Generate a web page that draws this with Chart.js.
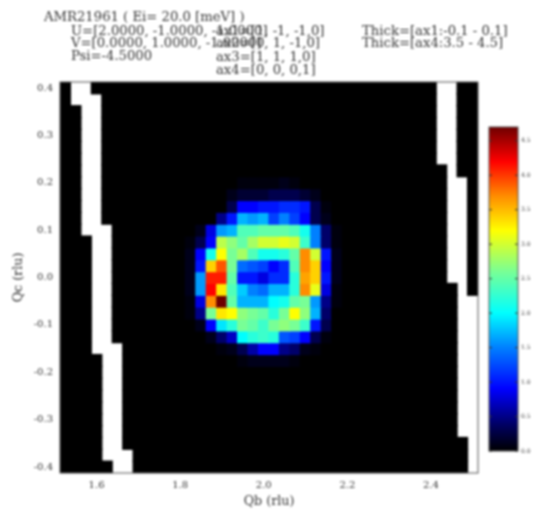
<!DOCTYPE html>
<html>
<head>
<meta charset="utf-8">
<title>AMR21961</title>
<script src="https://cdn.jsdelivr.net/npm/chart.js@4"></script>
<style>
  body { margin: 0; background: #fff; }
  canvas { position: absolute; filter: blur(0.8px); }
  #slice { left: 0; top: 0; }
  #colorbar { left: 480px; top: 117px; }
</style>
</head>
<body>
<canvas id="slice" width="533" height="511"></canvas>
<canvas id="colorbar" width="53" height="353"></canvas>
<script>
const N = null; // masked bin, no data

const qbBins = [1.525, 1.55, 1.575, 1.6, 1.625, 1.65, 1.675, 1.7, 1.725, 1.75,
  1.775, 1.8, 1.825, 1.85, 1.875, 1.9, 1.925, 1.95, 1.975, 2.0,
  2.025, 2.05, 2.075, 2.1, 2.125, 2.15, 2.175, 2.2, 2.225, 2.25,
  2.275, 2.3, 2.325, 2.35, 2.375, 2.4, 2.425, 2.45, 2.475, 2.5];

const qcBins = [0.4, 0.375, 0.35, 0.325, 0.3, 0.275, 0.25, 0.225, 0.2, 0.175, 0.15,
  0.125, 0.1, 0.075, 0.05, 0.025, 0.0, -0.025, -0.05, -0.075, -0.1, -0.125,
  -0.15, -0.175, -0.2, -0.225, -0.25, -0.275, -0.3, -0.325, -0.35, -0.375, -0.4];

const intensity = [
  [0,N,N,0,0,0,0,0,0,0, 0,0,0,0,0,0,0,0,0,0, 0,0,0,0,0,0,0,0,0,0, 0,0,0,0,0,0,N,N,0,0],
  [0,N,N,N,0,0,0,0,0,0, 0,0,0,0,0,0,0,0,0,0, 0,0,0,0,0,0,0,0,0,0, 0,0,0,0,0,0,N,N,0,0],
  [0,0,N,N,0,0,0,0,0,0, 0,0,0,0,0,0,0,0,0,0, 0,0,0,0,0,0,0,0,0,0, 0,0,0,0,0,0,N,N,0,0],
  [0,0,N,N,0,0,0,0,0,0, 0,0,0,0,0,0,0,0,0,0, 0,0,0,0,0,0,0,0,0,0, 0,0,0,0,0,0,N,N,0,0],
  [0,0,N,N,0,0,0,0,0,0, 0,0,0,0,0,0,0,0,0,0, 0,0,0,0,0,0,0,0,0,0, 0,0,0,0,0,0,N,N,0,0],
  [0,0,N,N,0,0,0,0,0,0, 0,0,0,0,0,0,0,0,0,0, 0,0,0,0,0,0,0,0,0,0, 0,0,0,0,0,0,N,N,0,0],
  [0,0,N,N,0,0,0,0,0,0, 0,0,0,0,0,0,0,0,0,0, 0,0,0,0,0,0,0,0,0,0, 0,0,0,0,0,0,N,N,0,0],
  [0,0,N,N,0,0,0,0,0,0, 0,0,0,0,0,0,0,0,0,0, 0,0,0,0,0,0,0,0,0,0, 0,0,0,0,0,0,0,N,0,0],
  [0,0,N,N,0,0,0,0,0,0, 0,0,0,0,0,0,0,0.05,0.05,0.05, 0.05,0.1,0.05,0,0,0,0,0,0,0, 0,0,0,0,0,0,0,N,N,0],
  [0,0,N,N,0,0,0,0,0,0, 0,0,0,0,0,0,0.1,0.2,0.2,0.2, 0.3,0.3,0.3,0.2,0.1,0,0,0,0,0, 0,0,0,0,0,0,0,N,N,0],
  [0,0,N,N,0,0,0,0,0,0, 0,0,0,0,0,0,0.3,0.9,0.9,1.0, 1.0,1.1,1.1,1.0,0.3,0.05,0,0,0,0, 0,0,0,0,0,0,0,N,N,0],
  [0,0,N,N,0,0,0,0,0,0, 0,0,0,0,0,0.5,1.0,1.7,1.6,1.7, 1.2,1.5,1.2,0.9,0.3,0.1,0,0,0,0, 0,0,0,0,0,0,0,N,N,0],
  [0,0,N,N,N,0,0,0,0,0, 0,0,0,0.1,0.8,1.6,1.7,2.4,2.4,2.5, 2.5,2.5,2.4,2.1,1.5,0.4,0.05,0,0,0, 0,0,0,0,0,0,0,N,N,0],
  [0,0,0,N,N,0,0,0,0,0, 0,0,0.05,0.3,0.9,2.9,2.7,2.5,2.8,3.0, 3.0,3.1,3.0,2.3,1.5,0.4,0.05,0,0,0, 0,0,0,0,0,0,0,N,N,0],
  [0,0,0,N,N,0,0,0,0,0, 0,0,0.1,0.9,2.1,3.2,2.6,2.8,2.4,2.1, 2.1,2.2,2.5,3.7,3.0,1.0,0.1,0,0,0, 0,0,0,0,0,0,0,N,N,0],
  [0,0,0,N,N,0,0,0,0,0, 0,0,0.1,1.0,3.4,3.9,2.6,1.4,1.3,1.2, 0.9,1.1,2.4,3.7,3.4,0.9,0.1,0,0,0, 0,0,0,0,0,0,0,N,N,0],
  [0,0,0,N,N,0,0,0,0,0, 0,0,0.1,1.6,4.1,4.1,2.5,1.0,1.0,0.8, 1.1,1.1,2.2,3.6,3.4,1.0,0.1,0,0,0, 0,0,0,0,0,0,0,N,N,0],
  [0,0,0,N,N,0,0,0,0,0, 0,0,0.1,1.6,4.2,3.3,2.4,1.8,1.5,1.4, 1.7,1.7,2.2,3.7,3.1,0.8,0.05,0,0,0, 0,0,0,0,0,0,0,0,N,0],
  [0,0,0,N,N,0,0,0,0,0, 0,0,0.05,0.8,3.7,4.7,2.5,1.7,1.7,1.7, 2.0,2.1,2.5,2.6,1.6,0.5,0.05,0,0,0, 0,0,0,0,0,0,0,0,N,N],
  [0,0,0,N,N,0,0,0,0,0, 0,0,0.05,0.5,2.6,3.3,3.2,2.7,2.6,2.5, 2.2,2.6,3.2,2.7,1.7,0.4,0,0,0,0, 0,0,0,0,0,0,0,0,N,N],
  [0,0,0,N,N,0,0,0,0,0, 0,0,0,0.1,0.9,1.9,2.2,2.6,2.5,2.3, 2.6,2.7,2.6,2.3,1.0,0.3,0,0,0,0, 0,0,0,0,0,0,0,0,N,N],
  [0,0,0,N,N,0,0,0,0,0, 0,0,0,0,0.1,0.4,0.7,2.0,2.2,2.3, 2.2,1.3,1.2,0.9,0.3,0.05,0,0,0,0, 0,0,0,0,0,0,0,0,N,N],
  [0,0,0,N,N,N,0,0,0,0, 0,0,0,0,0,0.05,0.1,0.3,0.6,0.9, 0.9,0.5,0.4,0.1,0.05,0,0,0,0,0, 0,0,0,0,0,0,0,0,N,N],
  [0,0,0,0,N,N,0,0,0,0, 0,0,0,0,0,0,0,0.05,0.1,0.1, 0.1,0.1,0.05,0,0,0,0,0,0,0, 0,0,0,0,0,0,0,0,N,N],
  [0,0,0,0,N,N,0,0,0,0, 0,0,0,0,0,0,0,0,0,0, 0,0,0,0,0,0,0,0,0,0, 0,0,0,0,0,0,0,0,N,N],
  [0,0,0,0,N,N,0,0,0,0, 0,0,0,0,0,0,0,0,0,0, 0,0,0,0,0,0,0,0,0,0, 0,0,0,0,0,0,0,0,N,N],
  [0,0,0,0,N,N,0,0,0,0, 0,0,0,0,0,0,0,0,0,0, 0,0,0,0,0,0,0,0,0,0, 0,0,0,0,0,0,0,0,N,N],
  [0,0,0,0,N,N,0,0,0,0, 0,0,0,0,0,0,0,0,0,0, 0,0,0,0,0,0,0,0,0,0, 0,0,0,0,0,0,0,0,N,N],
  [0,0,0,0,N,N,0,0,0,0, 0,0,0,0,0,0,0,0,0,0, 0,0,0,0,0,0,0,0,0,0, 0,0,0,0,0,0,0,0,N,N],
  [0,0,0,0,N,N,0,0,0,0, 0,0,0,0,0,0,0,0,0,0, 0,0,0,0,0,0,0,0,0,0, 0,0,0,0,0,0,0,0,N,N],
  [0,0,0,0,N,N,0,0,0,0, 0,0,0,0,0,0,0,0,0,0, 0,0,0,0,0,0,0,0,0,0, 0,0,0,0,0,0,0,0,0,N],
  [0,0,0,0,N,N,N,0,0,0, 0,0,0,0,0,0,0,0,0,0, 0,0,0,0,0,0,0,0,0,0, 0,0,0,0,0,0,0,0,0,N],
  [0,0,0,0,0,N,N,0,0,0, 0,0,0,0,0,0,0,0,0,0, 0,0,0,0,0,0,0,0,0,0, 0,0,0,0,0,0,0,0,0,N]
];

const qbTicks = [1.6, 1.8, 2.0, 2.2, 2.4];
const qcTicks = [0.4, 0.3, 0.2, 0.1, 0.0, -0.1, -0.2, -0.3, -0.4];
const colorbarTicks = [0, 0.5, 1, 1.5, 2, 2.5, 3, 3.5, 4, 4.5];
const colorbarMax = 4.7;

// [value, r, g, b] for the colour map
const colorStops = [
  [0, 0, 0, 0],
  [0.35, 0, 0, 90],
  [0.9, 0, 0, 255],
  [1.5, 0, 128, 255],
  [2.0, 0, 255, 255],
  [2.6, 120, 255, 150],
  [3.2, 255, 255, 0],
  [3.7, 255, 140, 0],
  [4.2, 255, 0, 0],
  [4.7, 110, 0, 0]
];

const headerLines = [
  ['AMR21961 ( Ei= 20.0 [meV] )', 44, 18],
  ['U=[2.0000, -1.0000, -1.0000]', 71, 32],
  ['V=[0.0000, 1.0000, -1.0000]', 71, 44],
  ['Psi=-4.5000', 71, 57],
  ['ax1=[1, -1, -1,0]', 216, 32],
  ['ax2=[0, 1, -1,0]', 216, 44],
  ['ax3=[1, 1, 1,0]', 216, 58],
  ['ax4=[0, 0, 0,1]', 216, 71],
  ['Thick=[ax1:-0.1 - 0.1]', 362, 32],
  ['Thick=[ax4:3.5 - 4.5]', 362, 44]
];

const serif = '"DejaVu Serif", serif';
const textColor = '#333';

function colorFor(v) {
  for (let i = 1; i < colorStops.length; i++) {
    const a = colorStops[i - 1], b = colorStops[i];
    if (v <= b[0]) {
      const t = (v - a[0]) / (b[0] - a[0]);
      return `rgb(${a[1] + t * (b[1] - a[1])},${a[2] + t * (b[2] - a[2])},${a[3] + t * (b[3] - a[3])})`;
    }
  }
  return 'rgb(110,0,0)';
}

const frame = {
  id: 'frame',
  afterDraw(chart) {
    const { ctx, chartArea: a } = chart;
    ctx.save();
    ctx.strokeStyle = '#555';
    ctx.lineWidth = 1;
    ctx.strokeRect(a.left, a.top, a.right - a.left, a.bottom - a.top);
    ctx.restore();
  }
};

const header = {
  id: 'header',
  afterDraw(chart) {
    const ctx = chart.ctx;
    ctx.save();
    ctx.font = '13.2px ' + serif;
    ctx.fillStyle = textColor;
    ctx.textBaseline = 'middle';
    headerLines.forEach(([text, x, y]) => ctx.fillText(text, x, y));
    ctx.restore();
  }
};

const halfBin = 0.0125;

new Chart(document.getElementById('slice'), {
  type: 'bar',
  data: {
    datasets: qcBins.map((qc, row) => ({
      label: 'Qc ' + qc,
      grouped: false,
      barPercentage: 1,
      categoryPercentage: 1,
      borderWidth: 0,
      inflateAmount: 0.6,
      data: qbBins
        .map((qb, col) => ({ x: qb, y: [qc - halfBin, qc + halfBin], z: intensity[row][col] }))
        .filter(d => d.z !== null),
      backgroundColor: ctx => colorFor(ctx.raw.z)
    }))
  },
  options: {
    responsive: false,
    animation: false,
    layout: { padding: { top: 82, right: 55, left: 0, bottom: 0 } },
    plugins: { legend: { display: false }, tooltip: { enabled: false } },
    scales: {
      x: {
        type: 'linear',
        offset: false,
        min: 1.5125,
        max: 2.5125,
        afterBuildTicks: s => { s.ticks = qbTicks.map(v => ({ value: v })); },
        afterFit: s => { s.height = 38; },
        grid: { display: false, drawTicks: false },
        border: { display: false },
        ticks: {
          autoSkip: false, maxRotation: 0, padding: 6, color: textColor,
          font: { family: serif, size: 10 },
          callback: v => v.toFixed(1)
        },
        title: { display: true, text: 'Qb (rlu)', color: textColor, padding: 2, font: { family: serif, size: 12.7 } }
      },
      y: {
        min: -0.4125,
        max: 0.4125,
        afterBuildTicks: s => { s.ticks = qcTicks.map(v => ({ value: v })); },
        afterFit: s => { s.width = 60; },
        grid: { display: false, drawTicks: false },
        border: { display: false },
        ticks: {
          autoSkip: false, padding: 7, color: textColor,
          font: { family: serif, size: 10 },
          callback: v => v.toFixed(1)
        },
        title: { display: true, text: 'Qc (rlu)', color: textColor, padding: 11, font: { family: serif, size: 12.7 } }
      }
    }
  },
  plugins: [frame, header]
});

const barTicks = {
  id: 'barTicks',
  afterDraw(chart) {
    const { ctx, chartArea: a, scales } = chart;
    ctx.save();
    ctx.strokeStyle = '#333';
    colorbarTicks.forEach(v => {
      const y = scales.y.getPixelForValue(v);
      ctx.beginPath();
      ctx.moveTo(a.left, y); ctx.lineTo(a.left + 3, y);
      ctx.moveTo(a.right, y); ctx.lineTo(a.right - 3, y);
      ctx.stroke();
    });
    ctx.restore();
  }
};

new Chart(document.getElementById('colorbar'), {
  type: 'bar',
  data: {
    labels: ['intensity'],
    datasets: [{
      data: [[0, colorbarMax]],
      barPercentage: 1,
      categoryPercentage: 1,
      borderWidth: 0,
      backgroundColor: ctx => {
        const chart = ctx.chart;
        if (!chart.chartArea) return '#000';
        const g = chart.ctx.createLinearGradient(0, chart.chartArea.bottom, 0, chart.chartArea.top);
        colorStops.forEach(s => g.addColorStop(s[0] / colorbarMax, `rgb(${s[1]},${s[2]},${s[3]})`));
        return g;
      }
    }]
  },
  options: {
    responsive: false,
    animation: false,
    layout: { padding: { left: 9, top: 10, bottom: 19, right: 0 } },
    plugins: { legend: { display: false }, tooltip: { enabled: false } },
    scales: {
      x: { display: false },
      y: {
        position: 'right',
        min: 0,
        max: colorbarMax,
        afterBuildTicks: s => { s.ticks = colorbarTicks.map(v => ({ value: v })); },
        afterFit: s => { s.width = 15; },
        grid: { display: false, drawTicks: false },
        border: { display: false },
        ticks: {
          autoSkip: false, padding: 3, color: textColor,
          font: { family: serif, size: 6 },
          callback: v => v.toFixed(1)
        }
      }
    }
  },
  plugins: [frame, barTicks]
});
</script>
</body>
</html>
